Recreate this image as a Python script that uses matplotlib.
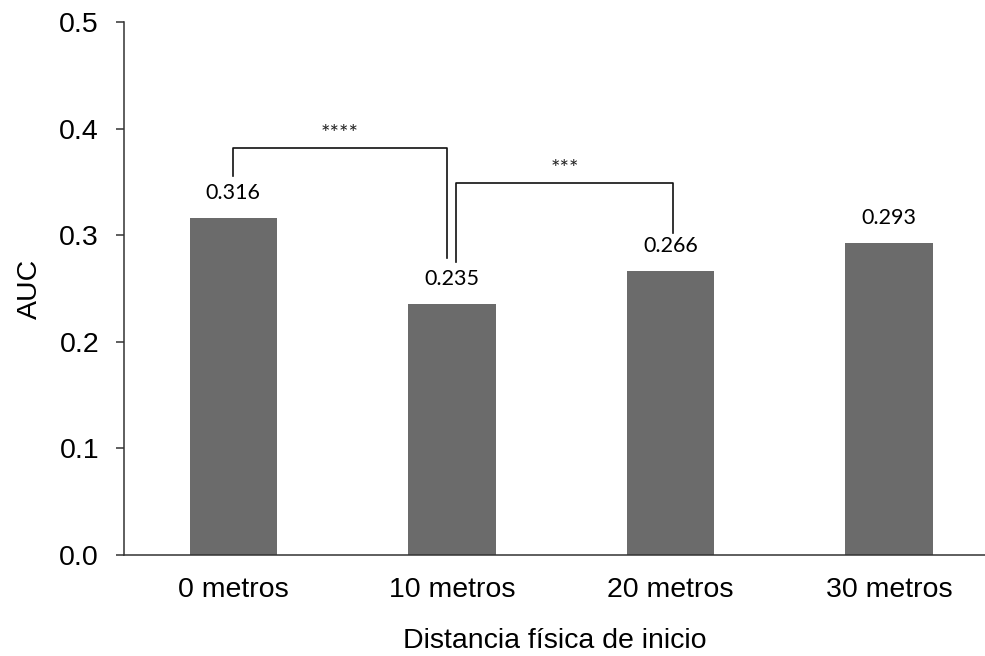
import matplotlib
matplotlib.use('Agg')
import matplotlib.pyplot as plt

categories = ['0 metros', '10 metros', '20 metros', '30 metros']
auc = [0.316, 0.235, 0.266, 0.293]

# significance brackets: (left bar, right bar, left foot, right foot, top, stars)
brackets = [
    (0, 1, 0.3555, 0.2786, 0.3818, '****'),
    (1, 2, 0.2749, 0.3020, 0.3490, '***'),
]

plt.rcParams['font.family'] = ['Liberation Sans', 'DejaVu Sans']

fig = plt.figure(figsize=(9.85, 6.56), dpi=100)
ax = fig.add_axes([0.1259, 0.154, 0.8741, 0.8125])

x = list(range(len(categories)))
ax.bar(x, auc, width=0.4, color='#6b6b6b', zorder=2)

for xi, v in zip(x, auc):
    ax.annotate(f'{v:.3f}', (xi, v), xytext=(0, 18), textcoords='offset points',
                ha='center', va='center', fontsize=15.5, family=['Lato', 'DejaVu Sans'])

for i, j, y_left, y_right, top, stars in brackets:
    xl = i - 0.002 if i == 0 else i + 0.02
    xr = j - 0.022 if j == 1 else j + 0.013
    ax.plot([xl, xl, xr, xr], [y_left, top, top, y_right], color='#111111', lw=1.2,
            zorder=3)
    ax.text((xl + xr) / 2, top + 0.013, stars, ha='center', va='center', fontsize=16,
            color='#222222', family=['Lato', 'DejaVu Sans'])

ax.set_xlim(-0.5, 3.44)
ax.set_ylim(0, 0.5)
ax.set_yticks([0.0, 0.1, 0.2, 0.3, 0.4, 0.5])
ax.set_yticklabels([f'{t:.1f}' for t in ax.get_yticks()])
ax.set_xticks(x)
ax.set_xticklabels(categories)

ax.spines['top'].set_visible(False)
ax.spines['right'].set_visible(False)
for s in ('left', 'bottom'):
    ax.spines[s].set_color('#333333')
    ax.spines[s].set_linewidth(1.1)

ax.tick_params(axis='y', direction='out', length=6, width=1.1, color='#333333',
               labelsize=20.5, pad=12)
ax.tick_params(axis='x', length=0, labelsize=20.5, pad=16)

ax.set_ylabel('AUC', fontsize=20.5, labelpad=12)
ax.set_xlabel('Distancia física de inicio', fontsize=20.5, labelpad=18)

fig.savefig('out.png', dpi=100)
